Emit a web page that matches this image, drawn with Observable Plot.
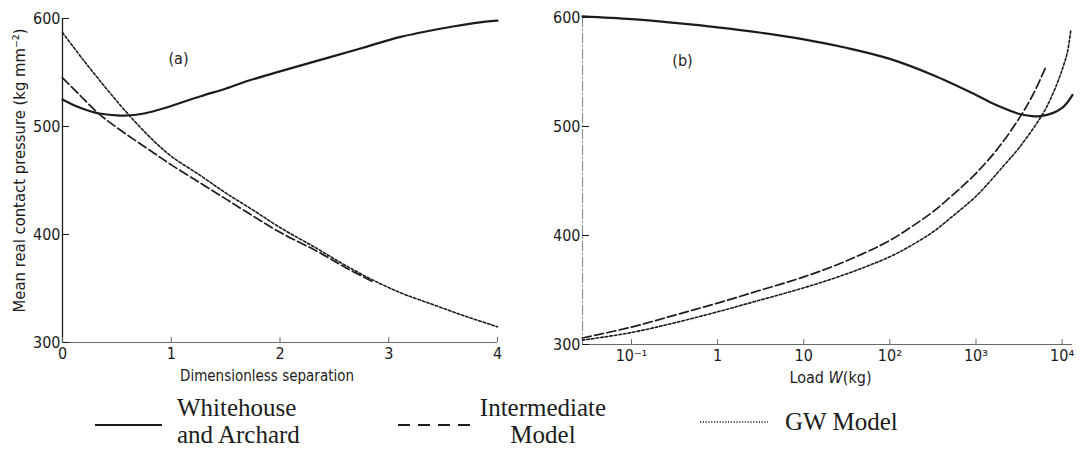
<!DOCTYPE html>
<html>
<head>
<meta charset="utf-8">
<script src="https://cdn.jsdelivr.net/npm/d3@7"></script>
<script src="https://cdn.jsdelivr.net/npm/@observablehq/plot@0.6"></script>
<style>
  html, body { margin: 0; padding: 0; background: #fff; }
  #figure { width: 1080px; height: 450px; overflow: hidden; }
  #panels { display: flex; }
  #panels svg, #legend svg { display: block; }
</style>
</head>
<body>
<div id="figure">
  <div id="panels"></div>
  <div id="legend"></div>
</div>
<script>
// ---- Panel (a): mean real contact pressure vs dimensionless separation ----
const sepWhitehouse = [0, 0.1, 0.2, 0.34, 0.5, 0.6, 0.75, 0.9, 1.0, 1.27, 1.5, 1.73, 2.0, 2.47, 2.8, 3.11, 3.5, 3.8, 4.0];
const pressWhitehouseA = [525, 520, 516, 512, 510.3, 510.2, 512, 516, 519, 528, 535, 543, 551, 564.5, 574, 583, 591, 596, 598];
const sepIntermediate = [0, 0.15, 0.32, 0.5, 0.81, 1.0, 1.27, 1.5, 1.73, 2.0, 2.34, 2.6, 2.86];
const pressIntermediateA = [545, 530, 513, 499, 477.5, 464.5, 447.5, 433, 418.5, 402, 384.5, 369.5, 356];
const sepGW = [0, 0.2, 0.4, 0.59, 0.81, 1.0, 1.27, 1.5, 1.73, 2.0, 2.34, 2.6, 2.86, 3.11, 3.41, 3.7, 3.94, 4.0];
const pressGWA = [587, 560.5, 535.5, 513, 489.5, 472.5, 454.5, 438.5, 424, 406.5, 387, 371.5, 357.5, 346, 335, 324.5, 316.5, 314.5];

// ---- Panel (b): mean real contact pressure vs load W (kg), log axis ----
const loadWhitehouse = [0.027, 0.1, 0.32, 1, 3.2, 10, 32, 100, 320, 1000, 1800, 3200, 4500, 5600, 7900, 10000, 11500, 13200];
const pressWhitehouseB = [601, 598.5, 595, 591, 586, 580, 572, 562, 547, 529, 519, 511.5, 509.5, 509.5, 512.5, 517, 522, 529];
const loadIntermediate = [0.027, 0.1, 0.32, 1, 3.2, 10, 32, 100, 178, 320, 560, 1000, 1800, 3200, 4500, 6600];
const pressIntermediateB = [306, 316, 327, 338, 350, 362, 377, 395.5, 408, 422, 438.5, 457, 480, 508, 528, 556];
const loadGW = [0.027, 0.1, 0.32, 1, 3.2, 10, 32, 100, 178, 320, 560, 1000, 2100, 3200, 5900, 7900, 10000, 11500, 12600];
const pressGWB = [304, 311, 320, 330, 341, 352, 365, 380.5, 391, 403.5, 419, 436, 464, 481, 511, 531, 552, 568, 588];

// ---- Axes ----
const pressureDomain = [300, 600];
const pressureTicks = [300, 400, 500, 600];
const separationDomain = [0, 4];
const separationTicks = [0, 1, 2, 3, 4];
const loadDomain = [0.027, 13200];
const loadTicks = [0.1, 1, 10, 100, 1000, 10000];
const loadTickLabels = ["10\u207B\u00B9", "1", "10", "10\u00B2", "10\u00B3", "10\u2074"];

// ---- Text ----
const yTitle = "Mean real contact pressure (kg mm\u207B\u00B2)";
const xTitleA = "Dimensionless separation";
const xTitleB = "Load W(kg)";
const panelTags = ["(a)", "(b)"];
const legendNames = [["Whitehouse", "and Archard"], ["Intermediate", "Model"], ["GW Model"]];

const ink = "#1c1c1c";
const faint = "#6a6a6a";
const labelFont = '"DejaVu Sans Condensed", "DejaVu Sans", sans-serif';

const rows = (xs, ys) => xs.map((x, i) => ({x, y: ys[i]}));

const solid = {stroke: ink, strokeWidth: 2.2, curve: "catmull-rom"};
const dashed = {stroke: ink, strokeWidth: 1.7, strokeDasharray: "9 3.5", curve: "catmull-rom"};
const dotted = {stroke: ink, strokeWidth: 1.6, strokeDasharray: "2.6 2", curve: "catmull-rom"};

const common = {
  width: 540,
  height: 395,
  style: {fontFamily: labelFont, fontSize: "16px", color: ink, background: "transparent"}
};

// Panel (a)
const panelA = Plot.plot({
  ...common,
  marginLeft: 62, marginRight: 43, marginTop: 18, marginBottom: 53,
  x: {domain: separationDomain},
  y: {domain: pressureDomain},
  marks: [
    Plot.ruleX([separationDomain[0]], {stroke: ink, strokeWidth: 1.3}),
    Plot.ruleY([pressureDomain[0]], {stroke: faint, strokeWidth: 1.1}),
    Plot.axisY({ticks: pressureTicks, tickSize: -7, tickPadding: 9, tickFormat: d => String(d), label: null, stroke: ink}),
    Plot.axisX({ticks: separationTicks, tickSize: -5, tickPadding: 10, tickFormat: d => String(d), label: null, stroke: faint}),
    Plot.line(rows(sepGW, pressGWA), {x: "x", y: "y", ...dotted}),
    Plot.line(rows(sepIntermediate, pressIntermediateA), {x: "x", y: "y", ...dashed}),
    Plot.line(rows(sepWhitehouse, pressWhitehouseA), {x: "x", y: "y", ...solid}),
    Plot.text([yTitle], {text: d => d, frameAnchor: "left", textAnchor: "middle", rotate: -90, dx: -43, dy: -10, fontSize: 16.5, wordSpacing: 7}),
    Plot.text([xTitleA], {text: d => d, frameAnchor: "bottom", textAnchor: "middle", dx: -13, dy: 38, fontSize: 15}),
    Plot.text([panelTags[0]], {text: d => d, frameAnchor: "top-left", textAnchor: "middle", dx: 116, dy: 34, fontSize: 16, letterSpacing: 4})
  ]
});

// Panel (b)
const panelB = Plot.plot({
  ...common,
  marginLeft: 42, marginRight: 8, marginTop: 17, marginBottom: 51,
  x: {type: "log", domain: loadDomain},
  y: {domain: pressureDomain},
  marks: [
    Plot.ruleX([loadDomain[0]], {stroke: "#8a8a8a", strokeWidth: 1.1, strokeDasharray: "10 2 2 2"}),
    Plot.ruleY([pressureDomain[0]], {stroke: faint, strokeWidth: 1.1}),
    Plot.axisY({ticks: pressureTicks, tickSize: -7, tickPadding: 9, tickFormat: d => String(d), label: null, stroke: ink}),
    Plot.axisX({ticks: loadTicks, tickSize: -5, tickPadding: 10, tickFormat: d => loadTickLabels[loadTicks.indexOf(d)], label: null, stroke: faint}),
    Plot.line(rows(loadGW, pressGWB), {x: "x", y: "y", ...dotted}),
    Plot.line(rows(loadIntermediate, pressIntermediateB), {x: "x", y: "y", ...dashed}),
    Plot.line(rows(loadWhitehouse, pressWhitehouseB), {x: "x", y: "y", ...solid}),
    Plot.text([xTitleB], {text: d => d, frameAnchor: "bottom", textAnchor: "middle", dx: 3, dy: 38, fontSize: 16, letterSpacing: 1}),
    Plot.text([panelTags[1]], {text: d => d, frameAnchor: "top-left", textAnchor: "middle", dx: 100, dy: 37, fontSize: 16, letterSpacing: 4})
  ]
});

// Italic W in the load axis title
const loadTitle = Array.from(panelB.querySelectorAll("text")).find(t => t.textContent === xTitleB);
if (loadTitle) {
  const [before, after] = xTitleB.split("W");
  loadTitle.textContent = "";
  const ns = "http://www.w3.org/2000/svg";
  const parts = [[before, null], ["W", "italic"], [after, null]];
  for (const [t, style] of parts) {
    const span = document.createElementNS(ns, "tspan");
    if (style) span.setAttribute("font-style", style);
    span.textContent = t;
    loadTitle.appendChild(span);
  }
}

document.getElementById("panels").append(panelA, panelB);

// Legend row beneath the two panels
const legend = d3.create("svg")
  .attr("width", 1080)
  .attr("height", 55)
  .attr("font-family", '"Liberation Serif", "Times New Roman", serif')
  .attr("font-size", 25)
  .attr("fill", ink);

const swatch = (x1, x2, y, opts) => legend.append("line")
  .attr("x1", x1).attr("x2", x2).attr("y1", y).attr("y2", y)
  .attr("stroke", ink)
  .attr("stroke-width", opts.width)
  .attr("stroke-dasharray", opts.dash || null);

swatch(95, 162, 30, {width: 2});
swatch(398, 472, 30, {width: 2, dash: "12 8"});
swatch(700, 768, 27, {width: 1.3, dash: "1.2 1.6"});

const block = (x, anchor, lines, y0) => {
  lines.forEach((t, i) => legend.append("text")
    .attr("x", x).attr("y", y0 + i * 27)
    .attr("text-anchor", anchor)
    .text(t));
};
block(177, "start", legendNames[0], 21);
block(543, "middle", legendNames[1], 21);
block(785, "start", legendNames[2], 35);

document.getElementById("legend").append(legend.node());
</script>
</body>
</html>
